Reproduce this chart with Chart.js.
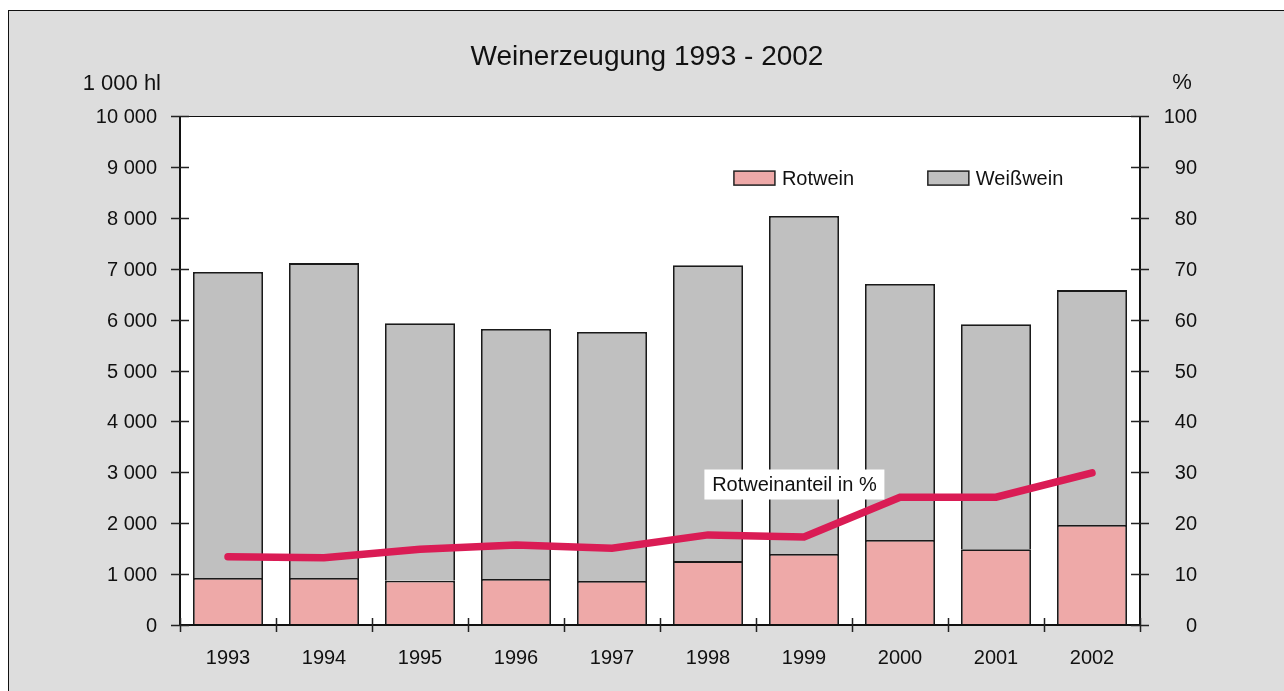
<!DOCTYPE html>
<html>
<head>
<meta charset="utf-8">
<script src="https://cdn.jsdelivr.net/npm/chart.js@4.4.0/dist/chart.umd.min.js"></script>
<style>
  html, body { margin: 0; padding: 0; background: #ffffff; overflow: hidden; }
  #frame { position: absolute; left: 8px; top: 10px; width: 1290px; height: 700px; background: #dddddd; border: 1px solid #111; }
  #wrap { position: absolute; left: 0; top: 0; width: 1284px; height: 691px; }
</style>
</head>
<body>
<div id="frame"></div>
<div id="wrap"><canvas id="wineChart"></canvas></div>
<script>
// Daten (1 000 hl bzw. %)
const years = ['1993', '1994', '1995', '1996', '1997', '1998', '1999', '2000', '2001', '2002'];
const rotwein = [925, 925, 870, 905, 865, 1255, 1395, 1670, 1490, 1965];
const weisswein = [6010, 6185, 5060, 4910, 4890, 5815, 6640, 5030, 4420, 4615];
const rotweinAnteil = [13.4, 13.2, 14.9, 15.7, 15.1, 17.7, 17.3, 25.1, 25.1, 29.9];
const leftTicks = [0, 1000, 2000, 3000, 4000, 5000, 6000, 7000, 8000, 9000, 10000];
const rightTicks = [0, 10, 20, 30, 40, 50, 60, 70, 80, 90, 100];

const FONT = "'Liberation Sans', Arial, Helvetica, sans-serif";
const ROT = '#eea9a8';
const WEISS = '#c0c0c0';
const LINE = '#da1c55';

function fmt(v) {
    return String(v).replace(/\B(?=(\d{3})+(?!\d))/g, ' ');
}

// Rahmen, Ticks, Legende, Titel und Beschriftungen
const decorations = {
    id: 'decorations',
    beforeDraw(chart) {
        const { ctx, chartArea: a } = chart;
        ctx.save();
        ctx.fillStyle = '#ffffff';
        ctx.fillRect(a.left, a.top, a.right - a.left, a.bottom - a.top);
        ctx.restore();
    },
    afterDraw(chart) {
        const { ctx, chartArea: a, scales } = chart;
        const x = scales.x, y = scales.y, y1 = scales.y1;
        ctx.save();

        // Achsen / Rahmen
        ctx.strokeStyle = '#111';
        ctx.lineWidth = 2;
        ctx.beginPath();
        ctx.moveTo(a.left, a.top); ctx.lineTo(a.left, a.bottom);
        ctx.moveTo(a.right, a.top); ctx.lineTo(a.right, a.bottom);
        ctx.moveTo(a.left, a.bottom); ctx.lineTo(a.right, a.bottom);
        ctx.stroke();
        ctx.lineWidth = 1;
        ctx.beginPath();
        ctx.moveTo(a.left, a.top + 0.5); ctx.lineTo(a.right, a.top + 0.5);
        ctx.stroke();

        // Teilstriche
        ctx.strokeStyle = '#222';
        ctx.lineWidth = 1.5;
        ctx.beginPath();
        leftTicks.forEach(v => {
            const py = Math.round(y.getPixelForValue(v)) + 0.5;
            ctx.moveTo(a.left - 9, py); ctx.lineTo(a.left + 9, py);
        });
        rightTicks.forEach(v => {
            const py = Math.round(y1.getPixelForValue(v)) + 0.5;
            ctx.moveTo(a.right - 9, py); ctx.lineTo(a.right + 9, py);
        });
        for (let i = 0; i <= years.length; i++) {
            const px = Math.round(x.getPixelForValue(i - 0.5)) + 0.5;
            ctx.moveTo(px, a.bottom - 7); ctx.lineTo(px, a.bottom + 7);
        }
        ctx.stroke();

        // Legende
        ctx.font = '20px ' + FONT;
        ctx.textBaseline = 'middle';
        ctx.textAlign = 'left';
        const legend = [
            { label: 'Rotwein', color: ROT, px: x.getPixelForValue(5.27) },
            { label: 'Weißwein', color: WEISS, px: x.getPixelForValue(7.29) }
        ];
        const ly = y.getPixelForValue(8780);
        legend.forEach(item => {
            ctx.fillStyle = item.color;
            ctx.fillRect(item.px, ly - 7, 41, 14);
            ctx.strokeStyle = '#222';
            ctx.lineWidth = 1.5;
            ctx.strokeRect(item.px, ly - 7, 41, 14);
            ctx.fillStyle = '#111';
            ctx.fillText(item.label, item.px + 48, ly + 1);
        });

        // Beschriftung der Linie
        const bx = x.getPixelForValue(5.9);
        const by = y1.getPixelForValue(27.6);
        ctx.fillStyle = '#ffffff';
        ctx.fillRect(bx - 90, by - 15, 180, 30);
        ctx.fillStyle = '#111';
        ctx.textAlign = 'center';
        ctx.fillText('Rotweinanteil in %', bx, by + 1);

        // Titel und Einheiten
        ctx.font = '28px ' + FONT;
        ctx.fillText('Weinerzeugung 1993 - 2002', (a.left + a.right) / 2 - 13, 57);
        ctx.font = '22px ' + FONT;
        ctx.textAlign = 'right';
        ctx.fillText('1 000 hl', 161, 84);
        ctx.textAlign = 'center';
        ctx.fillText('%', 1182, 83);
        ctx.restore();
    }
};

new Chart(document.getElementById('wineChart'), {
    data: {
        labels: years,
        datasets: [
            {
                type: 'line',
                label: 'Rotweinanteil in %',
                data: rotweinAnteil,
                yAxisID: 'y1',
                borderColor: LINE,
                borderWidth: 7.5,
                borderCapStyle: 'round',
                borderJoinStyle: 'miter',
                pointRadius: 0,
                tension: 0,
                order: 0
            },
            {
                type: 'bar',
                label: 'Rotwein',
                data: rotwein,
                yAxisID: 'y',
                backgroundColor: ROT,
                borderColor: '#1a1a1a',
                borderWidth: 1.8,
                barPercentage: 0.73,
                categoryPercentage: 1,
                order: 1
            },
            {
                type: 'bar',
                label: 'Weißwein',
                data: weisswein,
                yAxisID: 'y',
                backgroundColor: WEISS,
                borderColor: '#1a1a1a',
                borderWidth: 1.8,
                barPercentage: 0.73,
                categoryPercentage: 1,
                order: 1
            }
        ]
    },
    options: {
        responsive: true,
        maintainAspectRatio: false,
        animation: false,
        layout: { padding: { left: 0, right: 87, top: 116, bottom: 0 } },
        plugins: { legend: { display: false }, tooltip: { enabled: false }, title: { display: false } },
        scales: {
            x: {
                stacked: true,
                grid: { display: false, drawTicks: false },
                border: { display: false },
                ticks: { color: '#111', font: { family: FONT, size: 20 }, padding: 21, maxRotation: 0 },
                afterFit(s) { s.height = 66; }
            },
            y: {
                stacked: true,
                position: 'left',
                min: 0,
                max: 10000,
                grid: { display: false, drawTicks: false },
                border: { display: false },
                afterBuildTicks(s) { s.ticks = leftTicks.map(v => ({ value: v })); },
                ticks: { color: '#111', font: { family: FONT, size: 20 }, padding: 23, labelOffset: 1.5, callback: v => fmt(v) },
                afterFit(s) { s.width = 180; }
            },
            y1: {
                position: 'right',
                min: 0,
                max: 100,
                grid: { display: false, drawTicks: false },
                border: { display: false },
                afterBuildTicks(s) { s.ticks = rightTicks.map(v => ({ value: v })); },
                ticks: { color: '#111', font: { family: FONT, size: 20 }, padding: 25, labelOffset: 1.5, crossAlign: 'far' },
                afterFit(s) { s.width = 57; }
            }
        }
    },
    plugins: [decorations]
});
</script>
</body>
</html>
